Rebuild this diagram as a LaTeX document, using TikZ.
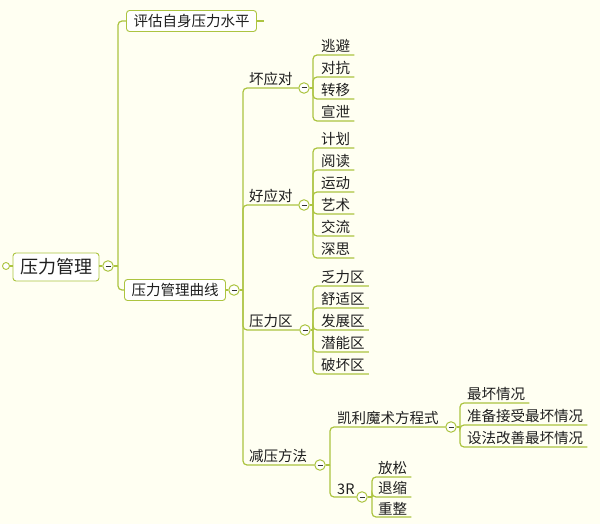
\documentclass[tikz,border=0pt]{standalone}
\usepackage{fontspec}
\setmainfont{Noto Sans CJK SC}
\definecolor{bg}{RGB}{255,255,242}
\definecolor{ln}{RGB}{172,196,64}
\definecolor{tx}{RGB}{30,30,30}
\newcommand{\mns}{\rule[-0.5pt]{5pt}{1pt}}
\begin{document}
\begin{tikzpicture}[x=1pt,y=-1pt,
  conn/.style={draw=ln,line width=1.2pt,rounded corners=4pt},
  box/.style={draw=ln,line width=0.9pt,fill=white,rounded corners=3pt,text=tx,inner xsep=7pt,inner ysep=2pt,minimum height=21pt,font=\fontsize{14.5}{16}\selectfont},
  rootbox/.style={box,font=\fontsize{18}{20}\selectfont,minimum height=28pt,inner xsep=7pt},
  btn/.style={circle,draw=ln,line width=1pt,fill=white,inner sep=0pt,minimum size=10.5pt,text=black!80},
  rdot/.style={circle,draw=ln,line width=0.9pt,fill=white,inner sep=0pt,minimum size=7pt},
  lbl/.style={anchor=south west,inner xsep=4pt,inner ysep=2pt,text=tx,font=\fontsize{14.5}{16}\selectfont},
  ]
\fill[bg] (0,0) rectangle (600,524);
\useasboundingbox (0,0) rectangle (600,524);
% root
\node[rdot] (rd) at (6,266) {};
\node[rootbox] (root) at (56,267) {压力管理};
\node[btn] (b0) at (108,266) {\mns};
\coordinate (t0) at (118,266);
\draw[conn] (rd) -- (rd -| root.west);
\draw[conn] (root.east |- b0) -- (b0);
\draw[conn] (b0) -- (t0);
% level 1
\node[box] (n1) at (191.5,21) {评估自身压力水平};
\node[box] (n2) at (175,290) {压力管理曲线};
\coordinate (n1s) at (264,21);
\draw[conn] (n1.east) -- (n1s);
\draw[conn] (t0) |- (n1.west);
\draw[conn] (t0) |- (n2.west);
\node[btn] (b2) at (234,290) {\mns};
\coordinate (t2) at (243,290);
\draw[conn] (n2) -- (b2);
\draw[conn] (b2) -- (t2);
% level 2
\node[lbl] (A) at (245,88) {坏应对};
\node[lbl] (B) at (245,205) {好应对};
\node[lbl] (C) at (245,330) {压力区};
\node[lbl] (D) at (245,465) {减压方法};
\node[btn] (bA) at (304,88) {\mns};
\node[btn] (bB) at (304,205) {\mns};
\node[btn] (bC) at (305,330) {\mns};
\node[btn] (bD) at (320,465) {\mns};
\coordinate (tA) at (313,88);
\coordinate (tB) at (313,205);
\coordinate (tC) at (313,330);
\coordinate (tD) at (330,465);
\foreach \b/\t in {bA/tA,bB/tB,bC/tC,bD/tD}{
  \draw[conn] (t2) |- (\b.west);
  \draw[conn] (\b) -- (\t);
}
% 坏应对
\node[lbl] (a1) at (317,55) {逃避};
\node[lbl] (a2) at (317,77) {对抗};
\node[lbl] (a3) at (317,99) {转移};
\node[lbl] (a4) at (317,121) {宣泄};
\foreach \n in {a1,a2,a3,a4}{\draw[conn] (tA) |- (\n.south east);}
% 好应对
\node[lbl] (p1) at (317,148) {计划};
\node[lbl] (p2) at (317,170) {阅读};
\node[lbl] (p3) at (317,192) {运动};
\node[lbl] (p4) at (317,214) {艺术};
\node[lbl] (p5) at (317,236) {交流};
\node[lbl] (p6) at (317,258) {深思};
\foreach \n in {p1,p2,p3,p4,p5,p6}{\draw[conn] (tB) |- (\n.south east);}
% 压力区
\node[lbl] (c1) at (317,286) {乏力区};
\node[lbl] (c2) at (317,308) {舒适区};
\node[lbl] (c3) at (317,330) {发展区};
\node[lbl] (c4) at (317,352) {潜能区};
\node[lbl] (c5) at (317,374) {破坏区};
\foreach \n in {c1,c2,c3,c4,c5}{\draw[conn] (tC) |- (\n.south east);}
% 减压方法
\node[lbl] (E) at (333,427) {凯利魔术方程式};
\node[lbl] (F) at (333,497) {3R};
\node[btn] (bE) at (451,427) {\mns};
\node[btn] (bF) at (362,497) {\mns};
\coordinate (tE) at (460,427);
\coordinate (tF) at (372,497);
\draw[conn] (tD) |- (bE.west);
\draw[conn] (tD) |- (bF.west);
\draw[conn] (bE) -- (tE);
\draw[conn] (bF) -- (tF);
\node[lbl] (e1) at (463,403) {最坏情况};
\node[lbl] (e2) at (463,425) {准备接受最坏情况};
\node[lbl] (e3) at (463,447) {设法改善最坏情况};
\foreach \n in {e1,e2,e3}{\draw[conn] (tE) |- (\n.south east);}
\node[lbl] (f1) at (374,477) {放松};
\node[lbl] (f2) at (374,497) {退缩};
\node[lbl] (f3) at (374,517) {重整};
\foreach \n in {f1,f2,f3}{\draw[conn] (tF) |- (\n.south east);}
\end{tikzpicture}
\end{document}
